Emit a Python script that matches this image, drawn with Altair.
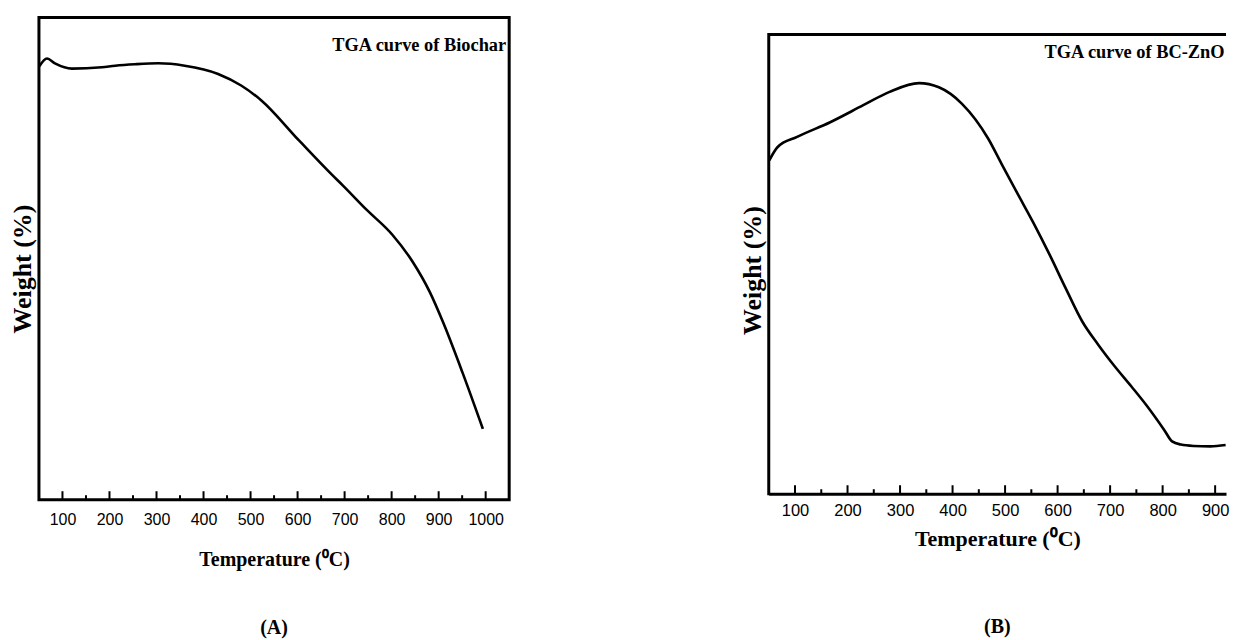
import altair as alt
import pandas as pd

# ---------------- data ----------------
# Panel A: TGA curve of Biochar
temp_a = [51, 67, 84, 120, 184, 212, 254, 304, 360, 431, 480, 523, 603, 674, 696,
          746, 802, 845, 881, 909, 951, 994]
weight_a = [89.9, 91.5, 90.5, 89.4, 89.7, 90.0, 90.3, 90.5, 90.0, 88.3, 85.9, 82.8,
            74.5, 67.3, 65.2, 60.2, 54.9, 49.3, 43.1, 36.9, 26.3, 14.7]

# Panel B: TGA curve of BC-ZnO
temp_b = [51, 67, 104, 167, 230, 280, 336, 374, 418, 468, 493, 523, 553, 585, 616,
          647, 677, 709, 741, 771, 803, 818, 835, 859, 891, 920]
weight_b = [72.6, 75.5, 77.7, 80.9, 84.6, 87.5, 89.4, 88.5, 84.9, 77.3, 71.9, 65.5,
            59.2, 52.0, 44.6, 37.5, 32.5, 27.7, 23.3, 19.0, 13.9, 11.4, 10.7, 10.4,
            10.3, 10.6]

major_a = [100, 200, 300, 400, 500, 600, 700, 800, 900, 1000]
minor_a = [150, 250, 350, 450, 550, 650, 750, 850, 950]
major_b = [100, 200, 300, 400, 500, 600, 700, 800, 900]
minor_b = [150, 250, 350, 450, 550, 650, 750, 850]

label_a = "TGA curve of Biochar"
label_b = "TGA curve of BC-ZnO"
x_title = "Temperature (\u2070C)"
y_title = "Weight (%)"

SERIF = "Liberation Serif"
SANS = "Liberation Sans"

one = pd.DataFrame({"d": [0]})


def panel(temps, weights, majors, minors, xdom, ydom, width, height, label,
          label_pos, tick_font, label_pad, title_font, title_pad, y_pad, y_title_y,
          caption, cap_offset, framed):
    df = pd.DataFrame({"T": temps, "W": weights})
    xaxis = alt.Axis(title=x_title, values=majors, format="d", grid=False,
                     ticks=False, tickSize=0,
                     domain=not framed, domainColor="black", domainWidth=3,
                     labelFont=SANS, labelFontSize=tick_font, labelColor="black",
                     labelPadding=label_pad, labelOverlap=False, labelFlush=False,
                     titleFont=SERIF, titleFontWeight="bold", titleFontSize=title_font,
                     titleColor="black", titlePadding=title_pad)
    yaxis = alt.Axis(title=y_title, labels=False, ticks=False, domain=False, grid=False,
                     titleFont=SERIF, titleFontWeight="bold", titleFontSize=26,
                     titleColor="black", titlePadding=y_pad, titleY=y_title_y)
    X = alt.X("T:Q", scale=alt.Scale(domain=xdom, nice=False, zero=False), axis=xaxis)
    Y = alt.Y("W:Q", scale=alt.Scale(domain=ydom, nice=False, zero=False), axis=yaxis)

    line = alt.Chart(df).mark_line(color="black", strokeWidth=2.6,
                                   interpolate="monotone").encode(x=X, y=Y)
    maj = alt.Chart(pd.DataFrame({"T": majors})).mark_rule(
        color="black", strokeWidth=2, y2Offset=-8.5).encode(
        x=X, y=alt.datum(0), y2=alt.datum(0))
    mnr = alt.Chart(pd.DataFrame({"T": minors})).mark_rule(
        color="black", strokeWidth=2, y2Offset=-4.5).encode(
        x=X, y=alt.datum(0), y2=alt.datum(0))
    txt = alt.Chart(one).mark_text(
        text=label, font=SERIF, fontWeight="bold", fontSize=18.4,
        align="right", baseline="middle", color="black").encode(
        x=alt.datum(label_pos[0]), y=alt.datum(label_pos[1]))
    layers = [line, maj, mnr, txt]
    if not framed:
        top = alt.Chart(one).mark_rule(color="black", strokeWidth=3).encode(
            x=alt.datum(xdom[0]), x2=alt.datum(xdom[1]), y=alt.datum(100))
        left = alt.Chart(one).mark_rule(color="black", strokeWidth=3,
                                        strokeCap="square").encode(
            x=alt.datum(xdom[0]), y=alt.datum(0), y2=alt.datum(100))
        layers += [top, left]
    props = dict(width=width, height=height,
                 title=alt.Title(caption, orient="bottom", anchor="middle",
                                 font=SERIF, fontWeight="bold", fontSize=20,
                                 color="black", offset=cap_offset))
    if framed:
        props["view"] = alt.ViewBackground(stroke="black", strokeWidth=3)
    else:
        props["view"] = alt.ViewBackground(stroke="transparent", strokeWidth=0)
    return alt.layer(*layers).properties(**props)


chart_a = panel(temp_a, weight_a, major_a, minor_a, [50, 1050], [0, 100], 471, 483,
                label_a, (1043.6, 94.2), 16, 12, 20, 22, 3.5, 251.5,
                "(A)", 49, True)
chart_b = panel(temp_b, weight_b, major_b, minor_b, [50, 920.7], [0, 103.7], 458, 477,
                label_b, (918, 96.2), 16.5, 9, 22, 9, 3, 253,
                "(B)", 68, False)

chart = alt.hconcat(chart_a, chart_b, spacing=229).properties(
    padding={"left": 0, "top": 7, "right": 0, "bottom": 0}
).configure_view(strokeWidth=0).configure(background="white")

chart.save("out.html", embed_options={"renderer": "svg", "actions": False})
